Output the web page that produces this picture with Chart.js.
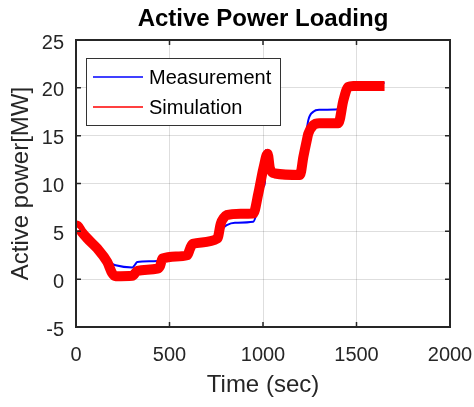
<!DOCTYPE html>
<html>
<head>
<meta charset="utf-8">
<title>Active Power Loading</title>
<script src="https://cdn.jsdelivr.net/npm/chart.js@4.4.1/dist/chart.umd.min.js"></script>
<style>
  body { margin: 0; background: #fff; }
  #caja { width: 474px; height: 407px; }
</style>
</head>
<body>
<div id="caja"><canvas id="potencia" width="474" height="407"></canvas></div>
<script>
// valores
const tiempoMedida = [0, 30, 60, 114, 167, 194, 212, 301, 315, 328, 435, 450, 462, 595, 610, 624, 756, 774, 790, 806, 850, 948, 975, 1002, 1010, 1014, 1020, 1037, 1064, 1198, 1216, 1242, 1269, 1300, 1403, 1430, 1456, 1483, 1650];
const potenciaMedida = [4.9, 4.7, 4.3, 3.3, 2.0, 1.6, 1.45, 1.22, 1.5, 1.8, 1.9, 2.1, 2.3, 2.6, 3.3, 3.7, 4.25, 5.0, 5.4, 5.65, 5.9, 6.0, 7.56, 9.65, 10.1, 13.5, 13.0, 11.8, 11.2, 11.1, 13.0, 16.6, 17.5, 17.7, 17.75, 19.4, 20.4, 20.5, 20.5];

const tiempoSimulacion = [0, 5, 30, 61, 114, 167, 194, 212, 301, 328, 435, 450, 462, 595, 610, 624, 756, 774, 790, 806, 880, 948, 975, 1002, 1025, 1037, 1064, 1198, 1216, 1234, 1242, 1269, 1300, 1376, 1403, 1430, 1456, 1483, 1650];
const potenciaSimulacion = [5.5, 5.6, 4.95, 4.25, 3.2, 1.8, 0.6, 0.3, 0.35, 0.87, 1.1, 1.4, 2.15, 2.5, 3.2, 3.7, 4.25, 5.8, 6.4, 6.7, 6.85, 6.87, 8.96, 11.58, 13.1, 11.6, 11.05, 10.9, 12.8, 14.5, 15.2, 16.1, 16.3, 16.3, 16.3, 18.7, 20.1, 20.2, 20.2];

const ticksX = [0, 500, 1000, 1500, 2000];
const ticksY = [-5, 0, 5, 10, 15, 20, 25];
const nombresSeries = ['Measurement', 'Simulation'];
const titulo = 'Active Power Loading';

const fuente = '"Liberation Sans", Arial, sans-serif';
const gris = '#262626';

window.onload = inicio;

function inicio() {
  graficoPotencia();
}

function puntos(tiempos, valores) {
  return tiempos.map((t, i) => ({ x: t, y: valores[i] }));
}

// caja de ejes, marcas hacia dentro, titulo y leyenda estilo matlab
const marcoEjes = {
  id: 'marcoEjes',
  afterDraw(chart) {
    const ctx = chart.ctx;
    const a = chart.chartArea;
    const sx = chart.scales.x;
    const sy = chart.scales.y;
    ctx.save();
    ctx.strokeStyle = gris;
    ctx.lineWidth = 1.5;
    ctx.beginPath();
    ticksX.forEach(v => {
      const px = sx.getPixelForValue(v);
      ctx.moveTo(px, a.bottom); ctx.lineTo(px, a.bottom - 5);
      ctx.moveTo(px, a.top); ctx.lineTo(px, a.top + 5);
    });
    ticksY.forEach(v => {
      const py = sy.getPixelForValue(v);
      ctx.moveTo(a.left, py); ctx.lineTo(a.left + 5, py);
      ctx.moveTo(a.right, py); ctx.lineTo(a.right - 5, py);
    });
    ctx.stroke();
    ctx.lineWidth = 2;
    ctx.strokeRect(a.left, a.top, a.right - a.left, a.bottom - a.top);

    // titulo centrado sobre los ejes
    ctx.fillStyle = '#000';
    ctx.font = 'bold 24px ' + fuente;
    ctx.textAlign = 'center';
    ctx.textBaseline = 'middle';
    ctx.fillText(titulo, (a.left + a.right) / 2, 19);

    // leyenda
    const lx = 86.5, ly = 58.5;
    ctx.fillStyle = '#fff';
    ctx.fillRect(lx, ly, 194, 67);
    ctx.lineWidth = 1;
    ctx.strokeStyle = '#333';
    ctx.strokeRect(lx, ly, 194, 67);
    const colores = ['#0000ff', '#ff0000'];
    const filas = [77, 107];
    ctx.font = '20px ' + fuente;
    ctx.textAlign = 'left';
    nombresSeries.forEach((n, i) => {
      ctx.strokeStyle = colores[i];
      ctx.lineWidth = 1.5;
      ctx.beginPath();
      ctx.moveTo(93, filas[i]);
      ctx.lineTo(143, filas[i]);
      ctx.stroke();
      ctx.fillStyle = '#000';
      ctx.fillText(n, 149, filas[i] + 1);
    });
    ctx.restore();
  }
};

function graficoPotencia() {
  const ctx = document.getElementById('potencia');

  new Chart(ctx, {
    type: 'line',
    data: {
      datasets: [{
        label: nombresSeries[0],
        data: puntos(tiempoMedida, potenciaMedida),
        borderColor: '#0000ff',
        borderWidth: 2,
        pointRadius: 0,
        cubicInterpolationMode: 'monotone',
        order: 2
      },
      {
        label: nombresSeries[1],
        data: puntos(tiempoSimulacion, potenciaSimulacion),
        borderColor: '#ff0000',
        borderWidth: 10,
        borderJoinStyle: 'round',
        borderCapStyle: 'butt',
        pointRadius: 0,
        cubicInterpolationMode: 'monotone',
        order: 1
      }]
    },
    options: {
      responsive: false,
      animation: false,
      layout: { padding: { top: 40, right: 24, bottom: 0, left: 0 } },
      plugins: {
        title: { display: false },
        legend: { display: false },
        tooltip: { enabled: false }
      },
      scales: {
        x: {
          type: 'linear',
          min: 0,
          max: 2000,
          afterFit: s => { s.height = 80; s.paddingRight = 0; s.paddingLeft = 0; },
          afterBuildTicks: s => { s.ticks = ticksX.map(v => ({ value: v })); },
          grid: { color: 'rgba(0,0,0,0.13)', drawTicks: false },
          border: { display: false },
          ticks: {
            color: gris,
            font: { family: fuente, size: 20 },
            padding: 16,
            maxRotation: 0,
            callback: v => String(v)
          },
          title: {
            display: true,
            text: 'Time (sec)',
            color: gris,
            font: { family: fuente, size: 24 },
            padding: { top: 0, bottom: 7 }
          }
        },
        y: {
          min: -5,
          max: 25,
          afterFit: s => { s.width = 76; },
          afterBuildTicks: s => { s.ticks = ticksY.map(v => ({ value: v })); },
          grid: { color: 'rgba(0,0,0,0.13)', drawTicks: false },
          border: { display: false },
          ticks: {
            color: gris,
            font: { family: fuente, size: 20 },
            padding: 12,
            labelOffset: 3,
            callback: v => String(v)
          },
          title: {
            display: true,
            text: 'Active power[MW]',
            color: gris,
            font: { family: fuente, size: 24 },
            padding: { top: 7, bottom: 0 }
          }
        }
      }
    },
    plugins: [marcoEjes]
  });
}
</script>
</body>
</html>
